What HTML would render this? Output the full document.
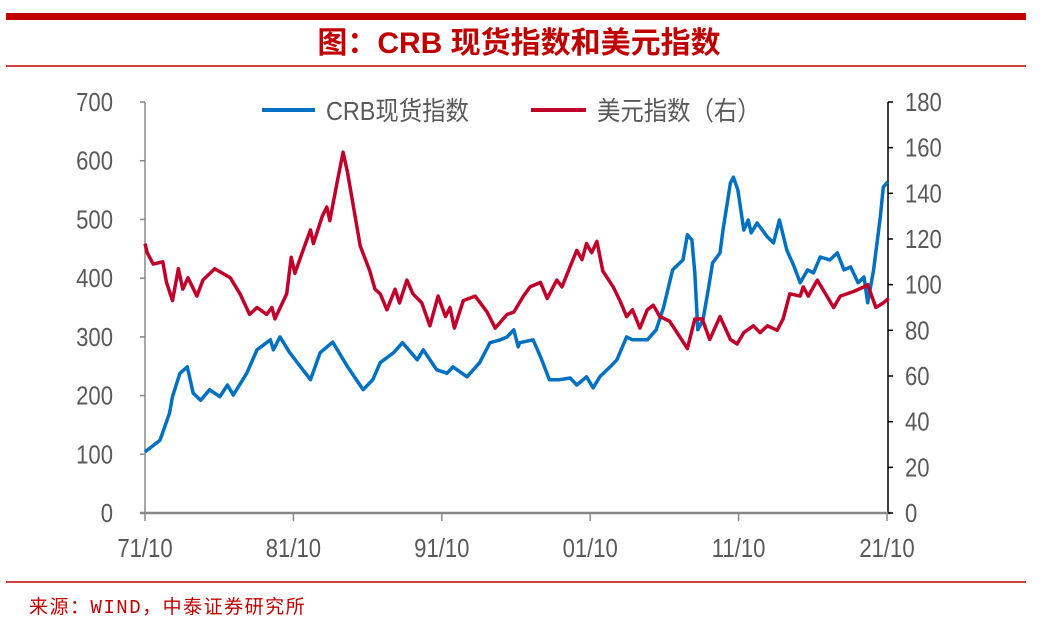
<!DOCTYPE html>
<html><head><meta charset="utf-8"><style>
body{margin:0;background:#fff;width:1042px;height:636px;overflow:hidden}
svg{display:block}
.tk{font-family:"Liberation Sans","Noto Sans CJK SC",sans-serif;font-size:26px;fill:#595959}
</style></head><body>
<svg id="chart" width="1042" height="636">
<rect x="6" y="13" width="1020" height="7" fill="#c00000"/>
<text x="519" y="53" text-anchor="middle" font-family="'Liberation Sans','Noto Sans CJK SC',sans-serif" font-weight="bold" font-size="30" fill="#c00000">图：CRB 现货指数和美元指数</text>
<line x1="6" y1="66" x2="1026" y2="66" stroke="#c00000" stroke-width="1.5"/>
<line x1="6" y1="582" x2="1026" y2="582" stroke="#c00000" stroke-width="1.5"/>
<text x="29" y="613" font-family="'Liberation Mono','Noto Sans CJK SC',sans-serif" font-size="19" letter-spacing="1.5" fill="#c00000">来源：WIND，中泰证券研究所</text>
<g id="axes"></g>
<g id="series"></g>
<g>
<line x1="262" y1="110" x2="315" y2="110" stroke="#0070c0" stroke-width="4"/>
<text transform="translate(326,120) scale(0.9,1)" class="tk">CRB现货指数</text>
<line x1="531" y1="110" x2="586" y2="110" stroke="#c0002b" stroke-width="4"/>
<text transform="translate(597,120) scale(0.9,1)" class="tk">美元指数（右）</text>
</g>
</svg>
<script>
const xTickLabels=["71/10","81/10","91/10","01/10","11/10","21/10"];
const xTickYears=[1971.75,1981.75,1991.75,2001.75,2011.75,2021.75];
const leftTicks=[0,100,200,300,400,500,600,700];
const rightTicks=[0,20,40,60,80,100,120,140,160,180];
const crbT=[1971.75,1972.76,1973.4,1973.6,1974.1,1974.6,1975.0,1975.5,1976.1,1976.8,1977.3,1977.7,1978.6,1979.3,1980.2,1980.4,1980.85,1981.5,1982.9,1983.55,1984.4,1985.4,1986.45,1987.1,1987.6,1988.5,1989.1,1990.1,1990.5,1991.4,1992.1,1992.5,1993.45,1994.3,1995.0,1995.7,1996.15,1996.6,1996.9,1997.0,1997.9,1998.4,1999.0,1999.7,2000.4,2000.85,2001.5,2001.95,2002.4,2003.1,2003.55,2004.2,2004.6,2005.6,2006.2,2006.7,2007.3,2008.0,2008.3,2008.6,2008.8,2009.0,2009.35,2009.7,2010.0,2010.5,2010.7,2011.2,2011.4,2011.7,2012.1,2012.4,2012.6,2013.0,2013.7,2014.1,2014.5,2015.0,2015.5,2015.9,2016.4,2016.8,2017.25,2017.9,2018.4,2018.85,2019.3,2019.8,2020.2,2020.45,2020.85,2021.3,2021.5,2021.8];
const crbV=[104,124,170,198,238,249,204,192,210,198,218,201,238,278,295,278,300,273,227,273,291,249,210,227,256,273,290,261,278,244,238,249,232,256,290,295,300,312,283,290,295,266,227,227,230,218,232,213,232,249,261,300,295,295,312,351,414,431,474,465,409,312,329,380,426,443,482,562,572,550,482,499,477,494,470,460,499,448,419,392,414,409,436,431,443,414,419,392,402,358,414,504,555,564];
const usdT=[1971.75,1971.9,1972.3,1972.95,1973.2,1973.6,1974.0,1974.3,1974.65,1975.25,1975.65,1976.45,1977.5,1978.15,1978.8,1979.3,1979.95,1980.3,1980.5,1981.3,1981.6,1981.85,1982.4,1982.9,1983.1,1983.7,1984.0,1984.2,1984.7,1985.1,1985.4,1985.8,1986.25,1986.9,1987.25,1987.6,1988.05,1988.6,1988.9,1989.4,1989.8,1990.4,1990.95,1991.5,1992.0,1992.3,1992.6,1993.2,1994.0,1994.8,1995.35,1996.15,1996.6,1997.25,1997.7,1998.4,1998.85,1999.5,1999.85,2000.4,2000.85,2001.2,2001.5,2001.85,2002.2,2002.6,2003.3,2003.75,2004.2,2004.6,2005.1,2005.6,2006.0,2006.45,2007.1,2007.8,2008.3,2008.8,2009.3,2009.8,2010.5,2011.2,2011.65,2012.1,2012.75,2013.2,2013.7,2014.35,2014.75,2015.2,2015.9,2016.1,2016.45,2017.05,2017.7,2018.15,2018.6,2019.5,2020.2,2020.45,2021.0,2021.5,2021.85];
const usdV=[118,114,109,110,101,93,107,98,103,95,102,107,103,96,87,90,87,90,85,96,112,105,115,124,118,130,134,128,145,158,149,134,117,106,98,96,89,98,92,102,96,92,82,95,86,90,81,93,95,88,81,87,88,95,99,101,94,102,99,108,115,111,118,114,119,106,99,93,86,89,81,89,91,86,84,77,72,85,85,76,86,76,74,79,82,79,82,80,85,96,95,99,95,102,95,90,95,97,99,100,90,92,94];
const X0=145,X1=887,T0=1971.75,T1=2021.75,Y0=513,YT=102;
const xs=t=>X0+(t-T0)*(X1-X0)/(T1-T0);
const yl=v=>Y0-v*(Y0-YT)/700;
const yr=v=>Y0-v*(Y0-YT)/180;
const NS="http://www.w3.org/2000/svg";
function mk(tag,attrs,parent){const e=document.createElementNS(NS,tag);for(const k in attrs)e.setAttribute(k,attrs[k]);parent.appendChild(e);return e;}
const ax=document.getElementById('axes');
let e;
e=mk('line',{x1:X0,y1:YT,x2:X0,y2:Y0,stroke:'#888','stroke-width':1.5},ax);


e=mk('line',{x1:X1+1,y1:YT,x2:X1+1,y2:Y0,stroke:'#000','stroke-width':1.5},ax);


e=mk('line',{x1:X0-5,y1:Y0,x2:X1+4,y2:Y0,stroke:'#888','stroke-width':2.5},ax);


leftTicks.forEach(v=>{
 const y=yl(v);
 e=mk('line',{x1:X0-5,y1:y,x2:X0,y2:y,stroke:'#888','stroke-width':1.5},ax);
 
 
 e=mk('text',{transform:`translate(113,${y+9}) scale(0.85,1)`,'text-anchor':'end',class:'tk'},ax);e.textContent=v;
 
 
});
rightTicks.forEach(v=>{
 const y=yr(v);
 e=mk('line',{x1:X1+1,y1:y,x2:X1+6,y2:y,stroke:'#000','stroke-width':1.5},ax);
 
 
 e=mk('text',{transform:`translate(905,${y+9}) scale(0.85,1)`,class:'tk'},ax);e.textContent=v;
 
 
});
xTickYears.forEach((t,i)=>{
 const x=xs(t);
 e=mk('line',{x1:x,y1:Y0,x2:x,y2:Y0+8,stroke:'#888','stroke-width':1.5},ax);
 
 
 e=mk('text',{transform:`translate(${x},${Y0+44}) scale(0.85,1)`,'text-anchor':'middle',class:'tk'},ax);e.textContent=xTickLabels[i];
 
 
});
const sg=document.getElementById('series');
e=mk('polyline',{points:crbT.map((t,i)=>xs(t).toFixed(1)+','+yl(crbV[i]).toFixed(1)).join(' '),fill:'none',stroke:'#0070c0','stroke-width':3.5,'stroke-linejoin':'round'},sg);


e=mk('polyline',{points:usdT.map((t,i)=>xs(t).toFixed(1)+','+yr(usdV[i]).toFixed(1)).join(' '),fill:'none',stroke:'#c0002b','stroke-width':3.5,'stroke-linejoin':'round'},sg);


</script>
</body></html>
